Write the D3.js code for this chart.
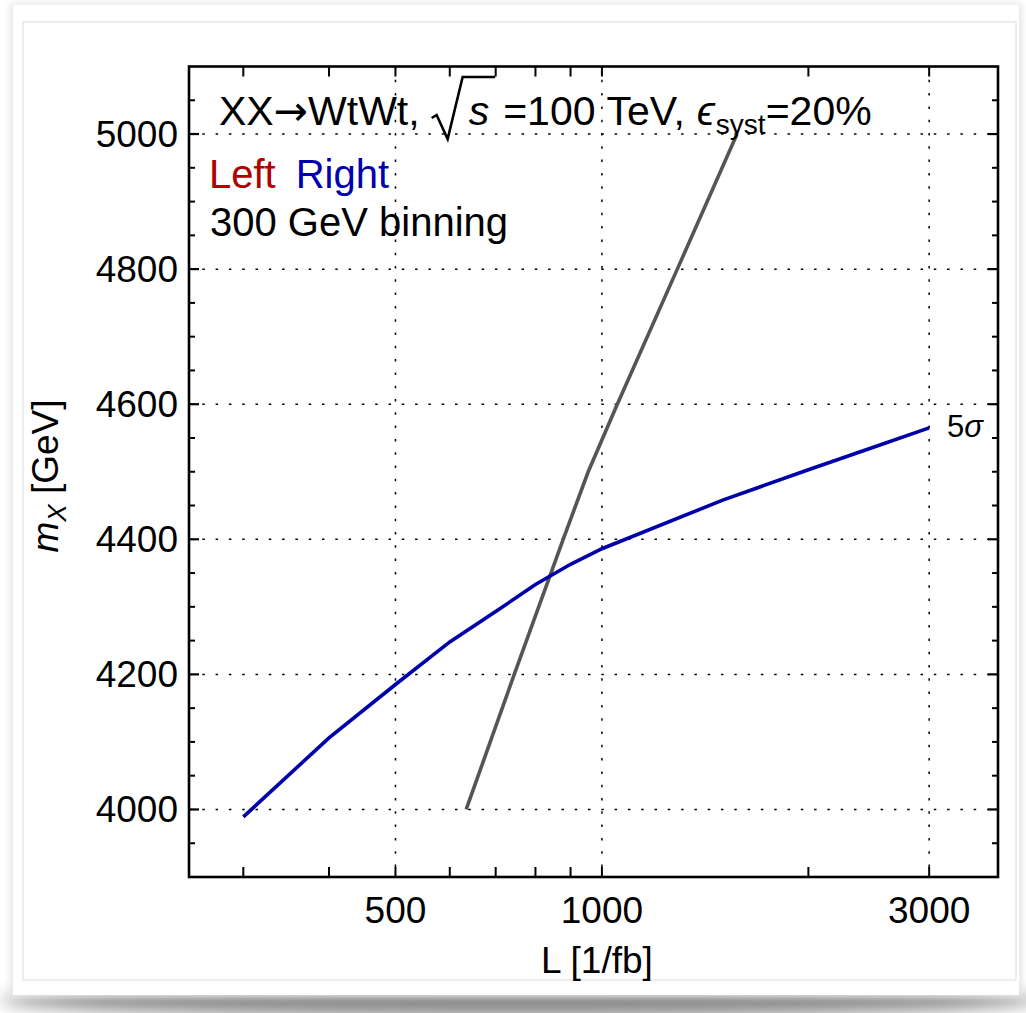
<!DOCTYPE html>
<html><head><meta charset="utf-8">
<script src="https://cdn.jsdelivr.net/npm/d3@7"></script>
<style>
html,body{margin:0;padding:0;background:#fff;}
svg{display:block;}
text{font-family:"Liberation Sans",Arial,sans-serif;}
</style></head>
<body>
<svg id="chart" width="1026" height="1013"></svg>
<script>
// ---- data ----
const xDomain = [250, 3780];
const yDomain = [3900, 5100];
const xMajorTicks = [500, 1000, 3000];
const xMinorTicks = [300, 400, 600, 700, 800, 900, 2000];
const yMajorTicks = [4000, 4200, 4400, 4600, 4800, 5000];
const blueL = [300, 400, 500, 600, 700, 800, 900, 1000, 1500, 2000, 2500, 3000];
const blueM = [3989, 4106, 4185, 4248, 4293, 4333, 4363, 4386, 4458, 4503, 4537, 4565];
const grayL = [634, 745, 878, 955, 1053, 1288, 1574];
const grayM = [4000, 4200, 4400, 4500, 4600, 4800, 5000];

const svg = d3.select('#chart');
const plot = {left: 189, right: 998, top: 66.5, bottom: 877};

// ---- card / shadow decoration ----
const defs = svg.append('defs');
const blur = defs.append('filter').attr('id','blur').attr('x','-10%').attr('y','-50%').attr('width','120%').attr('height','200%');
blur.append('feGaussianBlur').attr('stdDeviation', 8);
const sideBlur = defs.append('filter').attr('id','sblur');
sideBlur.append('feGaussianBlur').attr('stdDeviation', 3);
svg.append('ellipse').attr('cx', 520).attr('cy', 1000).attr('rx', 520).attr('ry', 16)
  .attr('fill', '#8a8a8a').attr('filter','url(#blur)');
svg.append('rect').attr('x', 10).attr('y', 3).attr('width', 1012).attr('height', 994)
  .attr('fill', '#e6e6e6').attr('filter','url(#sblur)');
svg.append('rect').attr('x', 13).attr('y', 5).attr('width', 1006).attr('height', 990).attr('fill', '#fff');
svg.append('rect').attr('x', 23).attr('y', 22).attr('width', 993).attr('height', 958)
  .attr('fill', 'none').attr('stroke', '#e2e2e2').attr('stroke-width', 1.2);

// ---- scales ----
const x = d3.scaleLog().domain(xDomain).range([plot.left, plot.right]);
const y = d3.scaleLinear().domain(yDomain).range([plot.bottom, plot.top]);

const g = svg.append('g');

// grid
const dash = '2.5,10.8';
g.selectAll('.vgrid').data(xMajorTicks).join('line')
  .attr('x1', d => x(d)).attr('x2', d => x(d)).attr('y1', plot.top).attr('y2', plot.bottom)
  .attr('stroke', '#000').attr('stroke-width', 1.5).attr('stroke-dasharray', dash);
g.selectAll('.hgrid').data(yMajorTicks).join('line')
  .attr('y1', d => y(d)).attr('y2', d => y(d)).attr('x1', plot.left).attr('x2', plot.right)
  .attr('stroke', '#000').attr('stroke-width', 1.5).attr('stroke-dasharray', dash);

// ticks
const xt = xMajorTicks.concat(xMinorTicks);
const tickLen = 10, minorLen = 6;
xt.forEach(v => {
  const px = x(v);
  g.append('line').attr('x1', px).attr('x2', px).attr('y1', plot.bottom).attr('y2', plot.bottom - tickLen)
    .attr('stroke', '#000').attr('stroke-width', 2);
  g.append('line').attr('x1', px).attr('x2', px).attr('y1', plot.top).attr('y2', plot.top + tickLen)
    .attr('stroke', '#000').attr('stroke-width', 2);
});
const yMinor = d3.range(3950, 5100, 50).filter(v => !yMajorTicks.includes(v));
yMajorTicks.forEach(v => {
  const py = y(v);
  g.append('line').attr('x1', plot.left).attr('x2', plot.left + tickLen).attr('y1', py).attr('y2', py).attr('stroke', '#000').attr('stroke-width', 2.2);
  g.append('line').attr('x1', plot.right).attr('x2', plot.right - tickLen).attr('y1', py).attr('y2', py).attr('stroke', '#000').attr('stroke-width', 2.2);
});
yMinor.forEach(v => {
  const py = y(v);
  g.append('line').attr('x1', plot.left).attr('x2', plot.left + minorLen).attr('y1', py).attr('y2', py).attr('stroke', '#000').attr('stroke-width', 2);
  g.append('line').attr('x1', plot.right).attr('x2', plot.right - minorLen).attr('y1', py).attr('y2', py).attr('stroke', '#000').attr('stroke-width', 2);
});

// frame
g.append('rect').attr('x', plot.left).attr('y', plot.top)
  .attr('width', plot.right - plot.left).attr('height', plot.bottom - plot.top)
  .attr('fill', 'none').attr('stroke', '#000').attr('stroke-width', 2.6);

// tick labels
g.selectAll('.xl').data(xMajorTicks).join('text')
  .attr('x', d => x(d)).attr('y', 923).attr('text-anchor', 'middle')
  .style('font-size', '37px').text(d => d);
g.selectAll('.yl').data(yMajorTicks).join('text')
  .attr('x', 178).attr('y', d => y(d) + 13).attr('text-anchor', 'end')
  .style('font-size', '37px').text(d => d);

// axis labels
g.append('text').attr('x', 597).attr('y', 973).attr('text-anchor', 'middle')
  .style('font-size', '37px').text('L [1/fb]');
const yl = g.append('text').attr('transform', 'translate(58,476) rotate(-90)')
  .attr('text-anchor', 'middle').style('font-size', '37px');
yl.append('tspan').style('font-style', 'italic').text('m');
yl.append('tspan').style('font-style', 'italic').style('font-size', '26px').attr('dy', 8).text('X');
yl.append('tspan').attr('dy', -8).text('\u00a0[GeV]');

// curves
const line = d3.line().x(d => x(d[0])).y(d => y(d[1]));
const clip = defs.append('clipPath').attr('id', 'clip');
clip.append('rect').attr('x', plot.left).attr('y', plot.top).attr('width', plot.right - plot.left).attr('height', plot.bottom - plot.top);
g.append('path').datum(grayL.map((v, i) => [v, grayM[i]])).attr('d', line)
  .attr('fill', 'none').attr('stroke', '#555').attr('stroke-width', 3.6).attr('clip-path', 'url(#clip)');
g.append('path').datum(blueL.map((v, i) => [v, blueM[i]])).attr('d', line)
  .attr('fill', 'none').attr('stroke', '#0000aa').attr('stroke-width', 3.6).attr('clip-path', 'url(#clip)');

// 5 sigma label
const sig = g.append('text').attr('x', 947).attr('y', 437).style('font-size', '31px');
sig.append('tspan').text('5');
sig.append('tspan').style('font-style', 'italic').text('\u03c3');

// title sequence
function piece(px, py, txt, size, italic, fill, family) {
  const t = g.append('text').attr('x', px).attr('y', py).style('font-size', size + 'px')
    .style('font-style', italic ? 'italic' : 'normal').attr('fill', fill || '#000').text(txt);
  if (family) t.style('font-family', family);
  return t.node().getComputedTextLength();
}
const fs = 41;
const ty = 125;
let cx = 219;
cx += piece(cx, ty, 'XX', fs);
cx += piece(cx, ty, '\u2192', fs, false, '#000', 'DejaVu Sans');
cx += piece(cx, ty, 'WtWt,', fs);
cx += 12;
const rx = cx;
cx += 37;
cx += piece(cx, ty, 's', fs, true);
const sEnd = cx;
g.append('path')
  .attr('d', `M${rx},${ty - 7} L${rx + 5},${ty - 10} L${rx + 16},${ty + 14} L${rx + 31},${ty - 48} L${sEnd + 6},${ty - 48}`)
  .attr('fill', 'none').attr('stroke', '#000').attr('stroke-width', 2.6).attr('stroke-linejoin', 'miter');
cx += 14;
cx += piece(cx, ty, '=100', fs);
cx += 11;
cx += piece(cx, ty, 'TeV,', fs);
cx += 12;
cx += piece(cx, ty, '\u03f5', fs, true);
cx += 1;
cx += piece(cx, ty + 9, 'syst', 28);
cx += piece(cx, ty, '=20%', fs);

// legend
let lx = 209;
lx += piece(lx, 188, 'Left', 40, false, '#b00000');
lx += 20;
piece(lx, 188, 'Right', 40, false, '#0000b0');
piece(210, 236, '300 GeV binning', 40);
</script>
</body></html>
